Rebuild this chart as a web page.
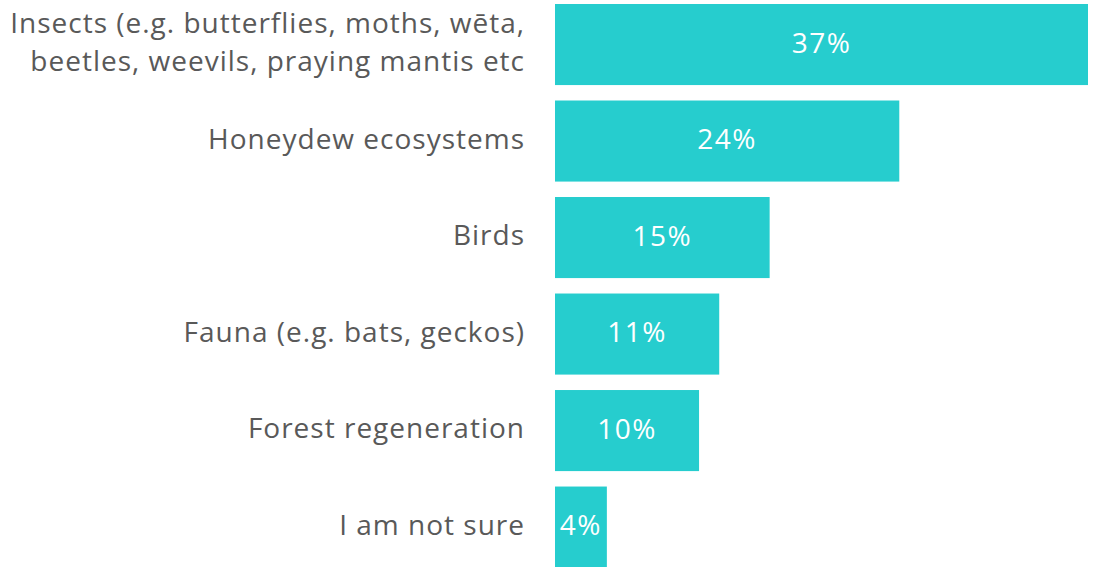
<!DOCTYPE html>
<html>
<head>
<meta charset="utf-8">
<script src="https://cdn.jsdelivr.net/npm/d3@7"></script>
<style>
  body { margin: 0; background: #fff; }
  svg { display: block; }
  .cat { font-family: 'Open Sans', sans-serif; fill: #595959; letter-spacing: 1px; }
  .val { font-family: 'Open Sans', sans-serif; fill: #fff; letter-spacing: 1.5px; }
</style>
</head>
<body>
<div id="d3-container"></div>
<script>
// CONST and GLOBALS
const width = 1099,
  height = 567,
  margin = { top: 4, bottom: 0, left: 555, right: 11 };

// data
const categories = [
  ['Insects (e.g. butterflies, moths, wēta,', 'beetles, weevils, praying mantis etc'],
  ['Honeydew ecosystems'],
  ['Birds'],
  ['Fauna (e.g. bats, geckos)'],
  ['Forest regeneration'],
  ['I am not sure'],
];
const values = [37, 23.9, 14.9, 11.4, 10, 3.6];

const data = categories.map((c, i) => ({ id: i, lines: c, value: values[i] }));

// SCALES
const xScale = d3
  .scaleLinear()
  .domain([0, 37])
  .range([margin.left, width - margin.right]);

const yScale = d3
  .scaleBand()
  .domain(data.map(d => d.id))
  .range([margin.top, 567.6])
  .paddingInner(0.16)
  .paddingOuter(0);

const svg = d3
  .select('#d3-container')
  .append('svg')
  .attr('width', width)
  .attr('height', height);

// bars
svg
  .selectAll('.bar')
  .data(data)
  .join('rect')
  .attr('class', 'bar')
  .attr('x', xScale(0))
  .attr('y', d => yScale(d.id))
  .attr('width', d => xScale(d.value) - xScale(0))
  .attr('height', yScale.bandwidth())
  .attr('fill', '#26cdce');

// value labels
svg
  .selectAll('.val')
  .data(data)
  .join('text')
  .attr('class', 'val')
  .attr('x', d => (xScale(0) + xScale(d.value)) / 2)
  .attr('y', d => yScale(d.id) + yScale.bandwidth() / 2)
  .attr('dy', '0.3em')
  .attr('text-anchor', 'middle')
  .attr('font-size', 28)
  .text(d => d3.format('.0f')(d.value) + '%');

// category labels (right aligned, like an axis)
const cat = svg
  .selectAll('.cat')
  .data(data)
  .join('text')
  .attr('class', 'cat')
  .attr('text-anchor', 'end')
  .attr('font-size', 28)
  .attr('y', d => yScale(d.id) + yScale.bandwidth() / 2);

cat
  .selectAll('tspan')
  .data(d => d.lines.map((l, i) => ({ l, i, n: d.lines.length })))
  .join('tspan')
  .attr('x', 525)
  .attr('dy', d => d.i === 0 ? (0.27 - (d.n - 1) * 0.68) + 'em' : '1.36em')
  .text(d => d.l);
</script>
</body>
</html>
